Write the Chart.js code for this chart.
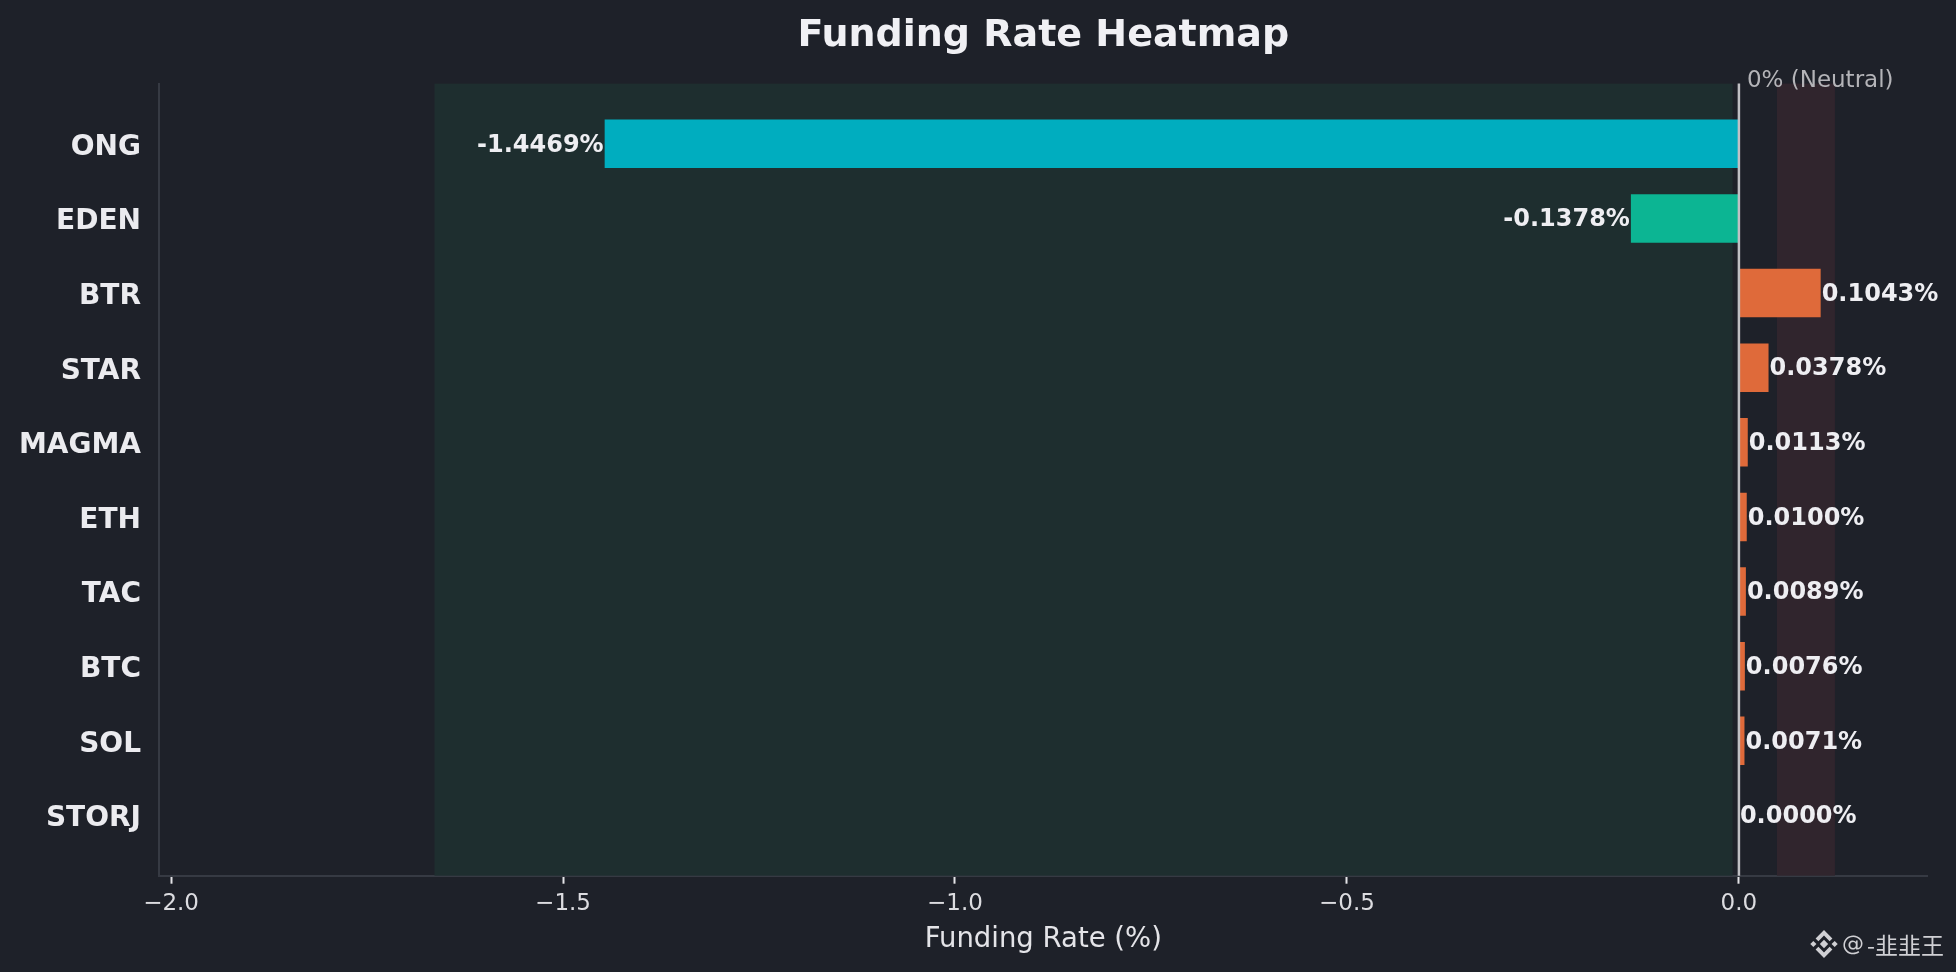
<!DOCTYPE html>
<html>
<head>
<meta charset="utf-8">
<script src="https://cdn.jsdelivr.net/npm/chart.js@4.4.1/dist/chart.umd.min.js"></script>
<style>
html,body{margin:0;padding:0;background:#1e2129;overflow:hidden;}
#wrap{width:1956px;height:972px;position:relative;}
canvas{display:block;}
</style>
</head>
<body>
<div id="wrap"><canvas id="c" width="1956" height="972"></canvas></div>
<script>
// ---- data ----
const categories = ['ONG', 'EDEN', 'BTR', 'STAR', 'MAGMA', 'ETH', 'TAC', 'BTC', 'SOL', 'STORJ'];
const fundingRates = [-1.4469, -0.1378, 0.1043, 0.0378, 0.0113, 0.0100, 0.0089, 0.0076, 0.0071, 0.0000];
const xTickValues = [-2.0, -1.5, -1.0, -0.5, 0.0];
const xTickLabels = ['−2.0', '−1.5', '−1.0', '−0.5', '0.0'];
const negativeZone = [-1.664, -0.008];
const positiveZone = [0.0485, 0.1225];
const neutralValue = 0;
const chartTitle = 'Funding Rate Heatmap';
const xAxisTitle = 'Funding Rate (%)';
const neutralLabel = '0% (Neutral)';
const watermarkHandle = '@';
const watermarkName = '-韭韭王';

// ---- styling ----
const FONT = "'DejaVu Sans', 'Noto Sans', sans-serif";
const BG = '#1e2129';
function barColor(v) {
  if (v < -0.5) return '#00adbf';
  if (v < 0) return '#0cb593';
  return '#df6a3a';
}

const bgPlugin = {
  id: 'bg',
  beforeDraw(chart) {
    const ctx = chart.ctx;
    ctx.save();
    ctx.fillStyle = BG;
    ctx.fillRect(0, 0, chart.width, chart.height);
    ctx.restore();
  }
};

const zonePlugin = {
  id: 'zones',
  beforeDatasetsDraw(chart) {
    const {ctx, chartArea: a, scales: {x}} = chart;
    ctx.save();
    let x0 = x.getPixelForValue(negativeZone[0]);
    let x1 = x.getPixelForValue(negativeZone[1]);
    ctx.fillStyle = '#1e2e2f';
    ctx.fillRect(x0, a.top, x1 - x0, a.bottom - a.top);
    x0 = x.getPixelForValue(positiveZone[0]);
    x1 = x.getPixelForValue(positiveZone[1]);
    ctx.fillStyle = '#30252d';
    ctx.fillRect(x0, a.top, x1 - x0, a.bottom - a.top);
    ctx.restore();
  }
};

function drawLogo(ctx, cx, cy, s) {
  // simplified Binance-style mark
  ctx.save();
  ctx.fillStyle = '#d0d0d4';
  const d = (x, y, r) => {
    ctx.beginPath();
    ctx.moveTo(x, y - r); ctx.lineTo(x + r, y); ctx.lineTo(x, y + r); ctx.lineTo(x - r, y);
    ctx.closePath(); ctx.fill();
  };
  d(cx, cy, s * 0.15);
  d(cx - s * 0.38, cy, s * 0.11);
  d(cx + s * 0.38, cy, s * 0.11);
  const chev = (dir) => {
    ctx.beginPath();
    const t = s * 0.5 * dir;
    ctx.moveTo(cx, cy - t);
    ctx.lineTo(cx + s * 0.3, cy - t + s * 0.3 * dir);
    ctx.lineTo(cx + s * 0.2, cy - t + s * 0.4 * dir);
    ctx.lineTo(cx, cy - t + s * 0.2 * dir);
    ctx.lineTo(cx - s * 0.2, cy - t + s * 0.4 * dir);
    ctx.lineTo(cx - s * 0.3, cy - t + s * 0.3 * dir);
    ctx.closePath(); ctx.fill();
  };
  chev(1); chev(-1);
  ctx.restore();
}

const overlayPlugin = {
  id: 'overlay',
  afterDatasetsDraw(chart) {
    const {ctx, chartArea: a, scales: {x}} = chart;
    ctx.save();
    // zero line
    const zx = x.getPixelForValue(neutralValue);
    ctx.strokeStyle = '#c0c0c4';
    ctx.lineWidth = 2.5;
    ctx.beginPath();
    ctx.moveTo(zx, a.top); ctx.lineTo(zx, a.bottom);
    ctx.stroke();

    // value labels
    const meta = chart.getDatasetMeta(0);
    ctx.font = `bold 24px ${FONT}`;
    ctx.fillStyle = '#eeeef2';
    ctx.textBaseline = 'middle';
    meta.data.forEach((el, i) => {
      const v = fundingRates[i];
      const txt = v.toFixed(4) + '%';
      if (v < 0) { ctx.textAlign = 'right'; ctx.fillText(txt, el.x - 1, el.y + 1.5); }
      else { ctx.textAlign = 'left'; ctx.fillText(txt, el.x + 1, el.y + 1.5); }
    });

    // neutral label
    ctx.font = `23px ${FONT}`;
    ctx.fillStyle = '#b4b4b8';
    ctx.textAlign = 'left';
    ctx.textBaseline = 'alphabetic';
    ctx.fillText(neutralLabel, zx + 8, a.top + 3);

    // title
    ctx.font = `bold 38px ${FONT}`;
    ctx.fillStyle = '#f0f0f4';
    ctx.textAlign = 'center';
    ctx.fillText(chartTitle, (a.left + a.right) / 2, 46);

    // watermark
    drawLogo(ctx, 1824, 944, 28);
    ctx.fillStyle = '#d0d0d4';
    ctx.textAlign = 'left';
    ctx.textBaseline = 'middle';
    ctx.font = `22px ${FONT}`;
    ctx.fillText(watermarkHandle, 1842, 945);
    ctx.font = `23px 'Noto Sans CJK SC', ${FONT}`;
    ctx.fillText(watermarkName, 1867, 945);
    ctx.restore();
  }
};

const ctx = document.getElementById('c').getContext('2d');
new Chart(ctx, {
  type: 'bar',
  data: {
    datasets: [{
      data: categories.map((c, i) => ({x: fundingRates[i], y: i})),
      backgroundColor: fundingRates.map(barColor),
      borderWidth: 0,
      categoryPercentage: 1.0,
      barPercentage: 0.65
    }]
  },
  options: {
    indexAxis: 'y',
    responsive: false,
    animation: false,
    devicePixelRatio: 1,
    layout: {padding: {top: 83.6, right: 28.4, left: 0, bottom: 0}},
    plugins: {legend: {display: false}, tooltip: {enabled: false}, title: {display: false}},
    scales: {
      x: {
        type: 'linear', position: 'bottom', offset: false,
        min: -2.0154, max: 0.2407,
        afterBuildTicks: s => { s.ticks = xTickValues.map(v => ({value: v})); },
        afterFit: s => { s.height = 96.3; },
        ticks: {
          callback: v => xTickLabels[xTickValues.indexOf(v)],
          color: '#dcdce0', font: {family: FONT, size: 23}, padding: 6.5,
          maxRotation: 0, autoSkip: false
        },
        grid: {display: true, drawOnChartArea: false, drawTicks: true, tickLength: 8, tickWidth: 2, tickColor: '#e4e4e8', color: 'rgba(0,0,0,0)'},
        border: {display: true, color: '#363a43', width: 2},
        title: {display: true, text: xAxisTitle, color: '#e4e4e8', font: {family: FONT, size: 27.5}, padding: {top: 0, bottom: 16}}
      },
      y: {
        type: 'linear', position: 'left', reverse: true, offset: false,
        min: -0.8075, max: 9.8075,
        afterBuildTicks: s => { s.ticks = categories.map((_, i) => ({value: i})); },
        afterFit: s => { s.width = 159; },
        ticks: {
          callback: v => categories[v],
          color: '#ebebef', font: {family: FONT, size: 28, weight: 'bold'}, padding: 18, autoSkip: false,
          labelOffset: 3.5
        },
        grid: {display: false, drawTicks: false},
        border: {display: true, color: '#363a43', width: 2}
      }
    }
  },
  plugins: [bgPlugin, zonePlugin, overlayPlugin]
});
</script>
</body>
</html>
